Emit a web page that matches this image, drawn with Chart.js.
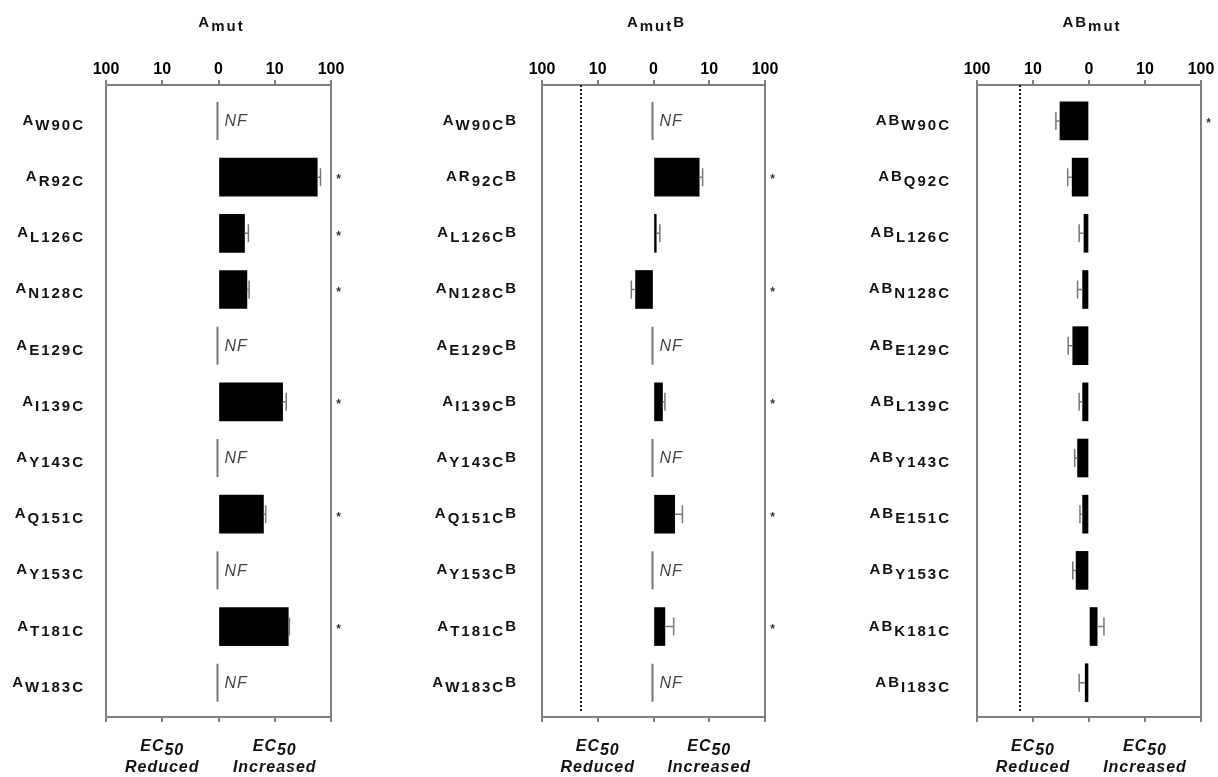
<!DOCTYPE html>
<html>
<head>
<meta charset="utf-8">
<script src="https://cdn.jsdelivr.net/npm/chart.js@4/dist/chart.umd.min.js"></script>
<style>
  body { margin: 0; background: #fff; }
  canvas { position: absolute; top: 0; }
</style>
</head>
<body>
<canvas id="amut" width="406" height="777" style="left:0px"></canvas>
<canvas id="amutb" width="406" height="777" style="left:406px"></canvas>
<canvas id="abmut" width="406" height="777" style="left:812px"></canvas>
<script>
// fold change in EC50: + = increased, - = reduced, null = NF (no function)
// '_' toggles subscript in the label strings
const xTickLabels = ['100', '10', '0', '10', '100'];

const amutLabels = ['A_W90C', 'A_R92C', 'A_L126C', 'A_N128C', 'A_E129C', 'A_I139C',
                    'A_Y143C', 'A_Q151C', 'A_Y153C', 'A_T181C', 'A_W183C'];
const amutValues = [null, 57, 2.9, 3.2, null, 13.8, null, 6.3, null, 17.4, null];
const amutErrTips = [null, 65, 3.4, 3.5, null, 16, null, 6.9, null, 18.2, null];
const amutSig = ['', '*', '*', '*', '', '*', '', '*', '', '*', ''];

const amutbLabels = ['A_W90C_B', 'AR_92C_B', 'A_L126C_B', 'A_N128C_B', 'A_E129C_B', 'A_I139C_B',
                     'A_Y143C_B', 'A_Q151C_B', 'A_Y153C_B', 'A_T181C_B', 'A_W183C_B'];
const amutbValues = [null, 6.6, 1.12, -2.1, null, 1.45, null, 2.4, null, 1.6, null];
const amutbErrTips = [null, 7.6, 1.3, -2.5, null, 1.6, null, 3.3, null, 2.3, null];
const amutbSig = ['', '*', '', '*', '', '*', '', '*', '', '*', ''];
const amutbThreshold = -20;

const abmutLabels = ['AB_W90C', 'AB_Q92C', 'AB_L126C', 'AB_N128C', 'AB_E129C', 'AB_L139C',
                     'AB_Y143C', 'AB_E151C', 'AB_Y153C', 'AB_K181C', 'AB_I183C'];
const abmutValues = [-3.3, -2.0, -1.23, -1.3, -1.95, -1.3, -1.6, -1.3, -1.7, 1.4, -1.17];
const abmutErrTips = [-3.9, -2.4, -1.5, -1.6, -2.35, -1.5, -1.8, -1.45, -1.95, 1.85, -1.5];
const abmutSig = ['*', '', '', '', '', '', '', '', '', '', ''];
const abmutThreshold = -17;

const FAMILY = '"Liberation Sans", Arial, Helvetica, sans-serif';
const AXIS_GREY = '#808080';

// signed fold change -> position on the log axis (0 = no change)
const toLog = v => v == null ? null : Math.sign(v) * Math.log10(Math.abs(v));

function drawRich(ctx, spec, x, y, align, font, drop) {
  const parts = spec.split('_');
  ctx.font = font;
  const widths = parts.map(p => ctx.measureText(p).width);
  const total = widths.reduce((s, w) => s + w, 0);
  let cx = align === 'right' ? x - total : align === 'center' ? x - total / 2 : x;
  ctx.textAlign = 'left';
  ctx.textBaseline = 'alphabetic';
  parts.forEach((p, k) => {
    ctx.fillText(p, cx, y + (k % 2 ? drop : 0));
    cx += widths[k];
  });
}

const decor = {
  id: 'decor',
  afterDraw(chart, args, o) {
    const { ctx, chartArea: a, scales: { x, y } } = chart;
    const spacing = s => { if ('letterSpacing' in ctx) ctx.letterSpacing = s; };
    ctx.save();
    ctx.fillStyle = '#111';

    // threshold line
    if (o.threshold != null) {
      const tx = x.getPixelForValue(toLog(o.threshold));
      ctx.strokeStyle = '#111';
      ctx.lineWidth = 2;
      ctx.setLineDash([2, 2]);
      ctx.beginPath();
      ctx.moveTo(tx, a.top);
      ctx.lineTo(tx, a.bottom - 6);
      ctx.stroke();
      ctx.setLineDash([]);
    }

    const zero = x.getPixelForValue(0);
    o.labels.forEach((lab, i) => {
      const py = y.getPixelForValue(i);
      ctx.fillStyle = '#111';
      spacing('2px');
      drawRich(ctx, lab, a.left - o.gap + 2, py + 4, 'right', `bold 15px ${FAMILY}`, 5);
      spacing('1px');

      const v = o.values[i];
      if (v == null) {
        // not functional: grey stub + NF
        ctx.strokeStyle = '#777';
        ctx.lineWidth = 2;
        ctx.beginPath();
        ctx.moveTo(zero - 1, py - 19);
        ctx.lineTo(zero - 1, py + 19);
        ctx.stroke();
        ctx.fillStyle = '#444';
        ctx.font = `italic 16px ${FAMILY}`;
        ctx.textAlign = 'left';
        ctx.textBaseline = 'middle';
        ctx.fillText('NF', zero + 6, py + 1);
      } else if (o.errTips[i] != null) {
        const x0 = x.getPixelForValue(toLog(v));
        const x1 = x.getPixelForValue(toLog(o.errTips[i]));
        ctx.strokeStyle = '#777';
        ctx.lineWidth = 1.5;
        ctx.beginPath();
        ctx.moveTo(x0, py);
        ctx.lineTo(x1, py);
        ctx.moveTo(x1, py - 9);
        ctx.lineTo(x1, py + 9);
        ctx.stroke();
      }

      if (o.sig[i]) {
        ctx.fillStyle = '#333';
        ctx.font = `bold 12px ${FAMILY}`;
        ctx.textAlign = 'center';
        ctx.textBaseline = 'middle';
        ctx.fillText(o.sig[i], a.right + 8, py + 3);
      }
    });

    // panel title
    ctx.fillStyle = '#111';
    spacing('2px');
    drawRich(ctx, o.title, (a.left + a.right) / 2 + 3, 27, 'center', `bold 15px ${FAMILY}`, 4);
    spacing('1px');

    // bottom captions
    const font = `italic bold 16px ${FAMILY}`;
    [[-1, 'Reduced'], [1, 'Increased']].forEach(([pos, word]) => {
      const cx = x.getPixelForValue(pos);
      drawRich(ctx, 'EC_50', cx, 751, 'center', font, 4);
      ctx.font = font;
      ctx.textAlign = 'center';
      ctx.fillText(word, cx, 772);
    });
    ctx.restore();
  }
};

function makePanel(id, labels, values, errTips, sig, threshold, title, yWidth, padRight, gap) {
  const rows = labels.map((_, i) => i);
  const edgeAxis = (position) => ({
    type: 'linear',
    position: position,
    min: -2,
    max: 2,
    ticks: {
      stepSize: 1,
      padding: 1,
      color: '#000',
      font: { family: FAMILY, size: 16, weight: 'bold' },
      callback: v => position === 'top' ? xTickLabels[Math.round(v) + 2] : ''
    },
    grid: { drawOnChartArea: false, drawTicks: true, tickLength: 5, color: AXIS_GREY, lineWidth: 2 },
    border: { display: true, color: AXIS_GREY, width: 2 },
    afterFit: s => { s.height = position === 'top' ? 40 : 10; }
  });
  const sideAxis = (position, width) => ({
    type: 'linear',
    position: position,
    reverse: true,
    offset: false,
    min: -0.64,
    max: 10.61,
    ticks: { display: false },
    grid: { display: false, offset: false },
    border: { display: true, color: AXIS_GREY, width: 2 },
    afterFit: s => { s.width = width; }
  });

  new Chart(document.getElementById(id), {
    type: 'bar',
    data: {
      datasets: [{
        data: rows.map(i => ({ x: toLog(values[i]), y: i })),
        backgroundColor: '#000',
        borderWidth: 0,
        barThickness: 38
      }]
    },
    options: {
      indexAxis: 'y',
      responsive: false,
      animation: false,
      layout: { padding: { top: 45, bottom: 50, left: 0, right: padRight } },
      scales: {
        x: edgeAxis('top'),
        x2: edgeAxis('bottom'),
        y: sideAxis('left', yWidth),
        y2: sideAxis('right', 0)
      },
      plugins: {
        legend: { display: false },
        tooltip: { enabled: false },
        decor: { labels, values, errTips, sig, threshold, title, gap }
      }
    },
    plugins: [decor]
  });
}

makePanel('amut', amutLabels, amutValues, amutErrTips, amutSig, null, 'A_mut', 106, 75, 23);
makePanel('amutb', amutbLabels, amutbValues, amutbErrTips, amutbSig, amutbThreshold, 'A_mut_B', 136, 47, 26);
makePanel('abmut', abmutLabels, abmutValues, abmutErrTips, abmutSig, abmutThreshold, 'AB_mut', 165, 17, 28);
</script>
</body>
</html>
